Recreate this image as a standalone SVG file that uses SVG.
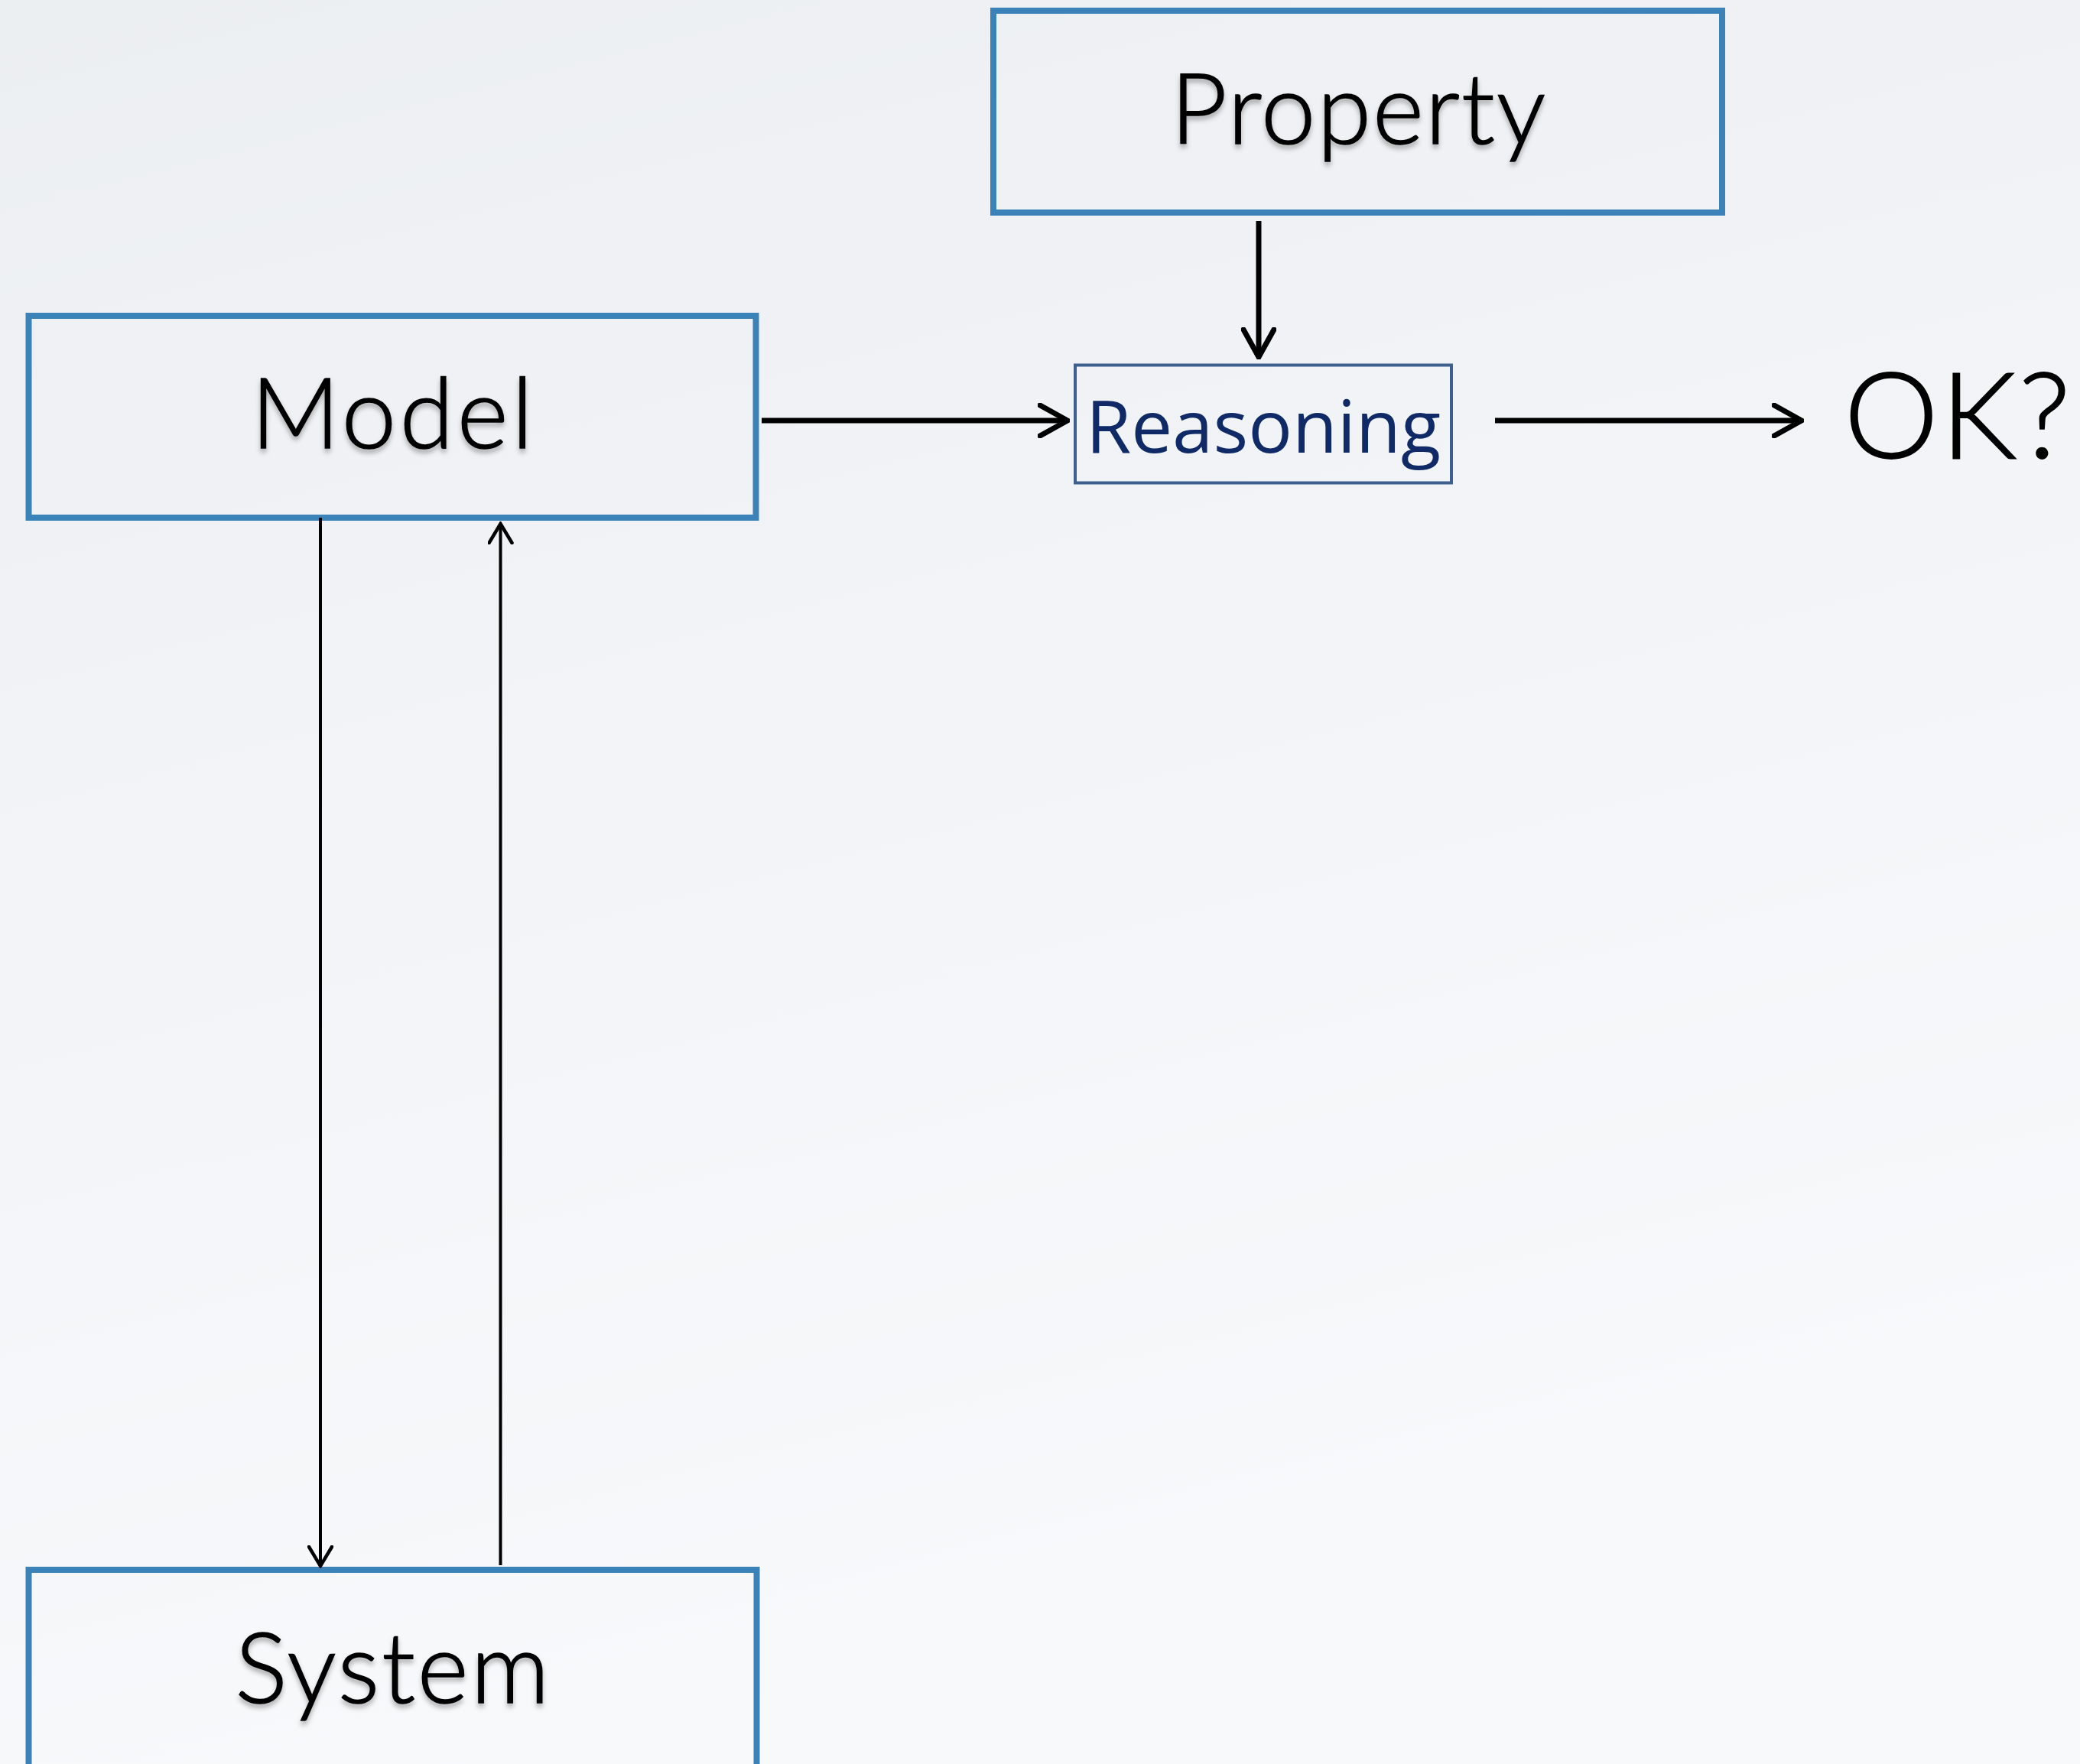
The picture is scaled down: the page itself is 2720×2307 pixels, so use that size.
<svg xmlns="http://www.w3.org/2000/svg" width="2720" height="2307" viewBox="0 0 2720 2307">
<defs>
<linearGradient id="bg" x1="0" y1="0" x2="0.3" y2="1">
<stop offset="0" stop-color="#ECEFF2"/>
<stop offset="1" stop-color="#F8F9FB"/>
</linearGradient>
<filter id="sh" x="-10%" y="-20%" width="120%" height="150%">
<feDropShadow dx="0" dy="5" stdDeviation="3" flood-color="#000" flood-opacity="0.3"/>
</filter>
<marker id="ah" viewBox="0 0 42 46" refX="39" refY="23" markerWidth="42" markerHeight="46" markerUnits="userSpaceOnUse" orient="auto">
<path d="M3,3 L39,23 L3,43" fill="none" stroke="#000" stroke-width="7" stroke-linecap="round" stroke-linejoin="miter"/>
</marker>
<marker id="ahs" viewBox="0 0 30 34" refX="27" refY="17" markerWidth="30" markerHeight="34" markerUnits="userSpaceOnUse" orient="auto">
<path d="M2,2 L27,17 L2,32" fill="none" stroke="#000" stroke-width="4.5" stroke-linecap="round"/>
</marker>
<style>
.box{fill:none;stroke:#3B82B8;stroke-width:8}
.lbl{font-family:Lato,"Noto Sans",sans-serif;font-weight:300;font-size:128px;fill:#000;stroke:#000;stroke-width:1.6px;text-anchor:middle;filter:url(#sh)}
.thick{stroke:#000;stroke-width:7;fill:none}
.thin{stroke:#000;stroke-width:4;fill:none}
</style>
</defs>
<rect x="0" y="0" width="2720" height="2307" fill="url(#bg)"/>
<g id="property">
<rect class="box" x="1299" y="14" width="953" height="264"/>
<text class="lbl" x="1777" y="188" letter-spacing="2">Property</text>
</g>
<g id="model">
<rect class="box" x="37.5" y="413" width="951" height="264"/>
<text class="lbl" x="515" y="586" letter-spacing="4.5">Model</text>
</g>
<g id="system">
<rect class="box" x="37.5" y="2053" width="952" height="300"/>
<text class="lbl" x="514.5" y="2227" letter-spacing="3">System</text>
</g>
<g id="reasoning">
<rect x="1406" y="477.5" width="492" height="154" fill="none" stroke="#3D5F8E" stroke-width="4"/>
<text x="1652" y="592" font-family="'Open Sans',sans-serif" font-size="96" fill="#0F2A66" text-anchor="middle">Reasoning</text>
</g>
<g id="ok">
<text x="2561" y="599" font-family="Lato,'Noto Sans',sans-serif" font-weight="300" font-size="156" fill="#000" stroke="#000" stroke-width="1.8" letter-spacing="3" text-anchor="middle">OK?</text>
</g>
<g id="connectors">
<line class="thick" x1="996" y1="550" x2="1396" y2="550" marker-end="url(#ah)"/>
<line class="thick" x1="1646" y1="289" x2="1646" y2="467" marker-end="url(#ah)"/>
<line class="thick" x1="1955" y1="550" x2="2356" y2="550" marker-end="url(#ah)"/>
<line class="thin" x1="419" y1="677" x2="419" y2="2048" marker-end="url(#ahs)"/>
<line class="thin" x1="654.5" y1="2047" x2="654.5" y2="685" marker-end="url(#ahs)"/>
</g>
</svg>
